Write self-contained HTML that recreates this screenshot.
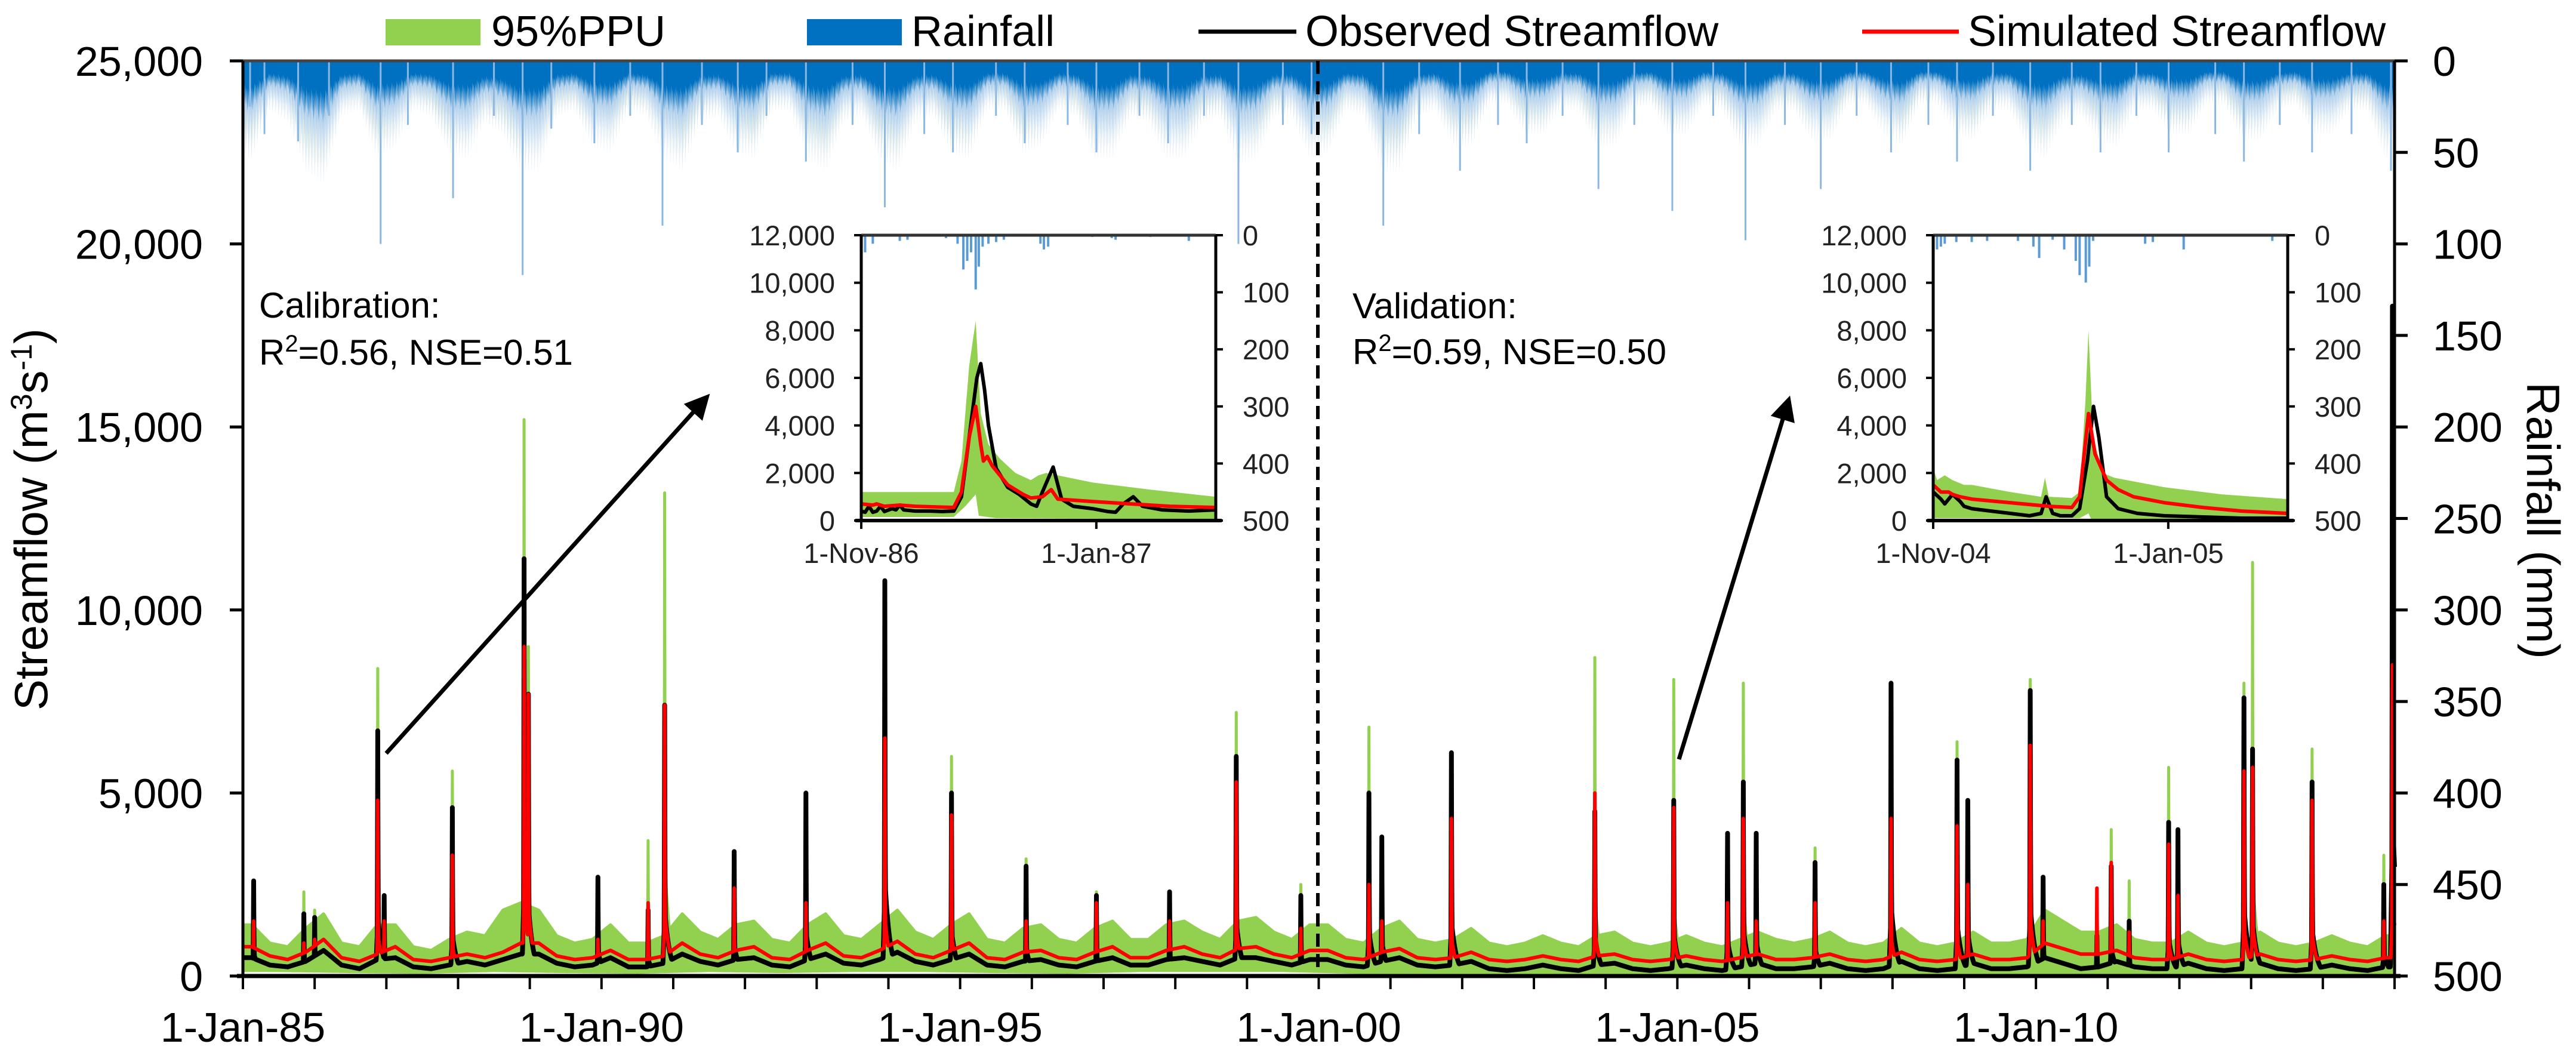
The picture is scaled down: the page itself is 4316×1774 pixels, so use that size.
<!DOCTYPE html>
<html><head><meta charset="utf-8"><style>
html,body{margin:0;padding:0;background:#fff;}
svg{display:block;font-family:"Liberation Sans",Arial,sans-serif;}
</style></head><body>
<svg id="chart" width="4316" height="1774" viewBox="0 0 4316 1774" xmlns="http://www.w3.org/2000/svg">
<rect width="4316" height="1774" fill="#fff"/>
<g id="main-rain"></g>
<g id="main-flow"></g>
<g id="main-axes"></g>
<line x1="2208" y1="102" x2="2208" y2="1635" stroke="#000" stroke-width="6" stroke-dasharray="22,12"/>
<g>
<rect x="646" y="32" width="159" height="44" fill="#92D050"/>
<text x="823" y="77" font-size="72">95%PPU</text>
<rect x="1352" y="32" width="159" height="44" fill="#0070C0"/>
<text x="1527" y="77" font-size="72">Rainfall</text>
<line x1="2008" y1="53" x2="2172" y2="53" stroke="#000" stroke-width="7"/>
<text x="2187" y="77" font-size="72">Observed Streamflow</text>
<line x1="3120" y1="53" x2="3282" y2="53" stroke="#FF0000" stroke-width="7"/>
<text x="3297" y="77" font-size="72">Simulated Streamflow</text>
</g>
<text transform="translate(79,870) rotate(-90)" text-anchor="middle" font-size="78">Streamflow (m<tspan font-size="50" dy="-26">3</tspan><tspan dy="26">s</tspan><tspan font-size="50" dy="-26">-1</tspan><tspan dy="26">)</tspan></text>
<text transform="translate(4234,872) rotate(90)" text-anchor="middle" font-size="78">Rainfall (mm)</text>
<g font-size="60">
<text x="434" y="532">Calibration:</text>
<text x="434" y="611">R<tspan font-size="40" dy="-22">2</tspan><tspan dy="22">=0.56, NSE=0.51</tspan></text>
</g>
<g font-size="60">
<text x="2266" y="533">Validation:</text>
<text x="2266" y="610">R<tspan font-size="40" dy="-22">2</tspan><tspan dy="22">=0.59, NSE=0.50</tspan></text>
</g>
<defs><marker id="ah" markerWidth="6" markerHeight="6" refX="4" refY="3" orient="auto" markerUnits="strokeWidth"><path d="M0,0 L6,3 L0,6 z" fill="#000"/></marker></defs>
<line x1="647" y1="1262" x2="1180" y2="670" stroke="#000" stroke-width="7" marker-end="url(#ah)"/>
<line x1="2813" y1="1272" x2="2995" y2="676" stroke="#000" stroke-width="7" marker-end="url(#ah)"/>
<g id="inset1"></g>
<g id="inset2"></g>
</svg>
<script>
// ---------------- MAIN CHART DATA ----------------
const xTickYears = [1985,1990,1995,2000,2005,2010];
const xTickLabels = ["1-Jan-85","1-Jan-90","1-Jan-95","1-Jan-00","1-Jan-05","1-Jan-10"];
const yTicks = [0,5000,10000,15000,20000,25000];
const yTickLabels = ["0","5,000","10,000","15,000","20,000","25,000"];
const rainTicks = [0,50,100,150,200,250,300,350,400,450,500];
// quarterly baseline flows (Q1..Q4 of each year 1985-2014)
const obsBase = [500,300,250,400, 700,300,200,450, 500,250,200,300, 400,300,450,600, 600,350,250,300, 500,250,250,350, 600,400,300,450, 500,300,250,450, 600,350,300,450, 650,400,300,450, 600,300,250,400, 450,300,250,400, 500,300,300,450, 500,400,300,500, 500,400,300,450, 450,300,250,400, 500,300,250,300, 400,200,150,200, 300,200,150,300, 350,200,150,200, 300,200,150,250, 350,200,200,250, 350,200,150,200, 400,200,150,200, 350,200,200,250, 500,350,200,250, 400,250,200,200, 350,200,150,200, 350,200,150,200, 300,200,150,250];
const simBase = [800,550,450,650, 1000,500,400,600, 800,450,400,500, 600,500,650,900, 900,550,450,500, 700,450,450,550, 900,600,500,700, 800,500,450,700, 900,550,500,700, 950,600,500,700, 900,500,450,650, 700,500,450,650, 800,500,500,700, 800,600,500,750, 800,600,500,700, 700,500,450,650, 750,500,450,500, 650,450,400,450, 550,450,400,550, 600,450,400,450, 550,450,400,500, 600,450,450,500, 600,450,400,450, 650,450,400,450, 600,450,450,500, 900,750,600,600, 700,500,450,450, 600,450,400,450, 600,450,400,450, 550,450,400,500];
const ppuHiBase = [1400,900,800,1300, 1700,900,800,1400, 1400,800,700,1000, 1200,1100,1800,2000, 1800,1100,900,1000, 1400,900,900,1100, 1700,1200,1000,1400, 1500,1000,900,1400, 1700,1100,1000,1400, 1800,1200,1000,1400, 1700,1000,900,1300, 1400,1000,900,1300, 1500,1000,1000,1400, 1500,1200,1000,1500, 1600,1200,1000,1400, 1400,1000,900,1300, 1500,1000,900,1000, 1300,900,800,900, 1100,900,800,1100, 1200,900,800,900, 1100,900,800,1000, 1200,1000,900,1000, 1200,900,800,900, 1300,900,800,900, 1200,900,900,1000, 1800,1500,1200,1200, 1400,1000,900,900, 1200,900,800,900, 1200,900,800,900, 1100,900,800,1100];
const ppuLoBase = [150,120,100,150,120,100,150,120,150,150,120,100,150,150,150,100,80,50,50,50,50,50,50,50,50,80,50,50,50,50];
// flood peaks
const peakT   = [1985.15,1985.85,1986.0,1986.88,1986.97,1987.92,1988.92,1988.98,1989.95,1990.65,1990.88,1991.85,1992.85,1993.95,1994.88,1995.92,1996.9,1997.92,1998.85,1999.75,2000.7,2000.88,2001.85,2003.85,2004.95,2005.7,2005.92,2006.1,2006.92,2007.98,2008.9,2009.05,2009.92,2010.1,2010.85,2011.05,2011.3,2011.85,2011.98,2012.9,2013.02,2013.85,2014.85,2014.97];
const peakObs = [2600,1700,1600,6700,2200,4600,11400,7700,2700,1800,7400,3400,5000,10800,5000,3000,2200,2300,6000,2200,5000,3800,6100,4500,4800,3900,5300,3900,3100,8000,5900,4800,7800,2700,1100,3000,1500,4200,4000,7600,6200,5300,2500,18300];
const peakSim = [1500,900,1000,4800,1500,3300,9000,7700,1000,2000,7400,2400,2000,6500,4400,1500,2000,1500,5300,1300,2500,1500,4300,5000,4600,2000,4300,1500,2000,4300,4100,2500,6300,1500,2400,3100,1200,3600,2200,5600,5700,4800,1500,8500];
const peakHi  = [1800,2300,1800,8400,2000,5600,15200,9000,1500,3700,13200,3400,3500,6800,6000,3200,2300,2000,7200,2500,6800,2500,4200,8700,8100,3000,8000,2500,3500,8000,6400,4000,8100,2500,1500,4000,2600,5700,3000,8000,11300,6200,3300,12300];
// rainfall
const rainBand = [16,8,10,18, 20,9,8,16, 14,8,9,15, 16,10,12,18, 18,9,8,14, 15,8,9,16, 18,10,9,15, 16,8,8,16, 18,10,9,16, 18,10,9,15, 16,8,8,15, 14,8,9,16, 16,9,10,16, 16,10,9,17, 16,9,9,16, 15,8,9,18, 18,9,8,14, 14,7,7,12, 12,8,8,14, 14,8,7,12, 12,7,8,14, 14,8,8,13, 13,7,7,12, 14,7,7,12, 13,8,8,14, 16,10,9,13, 14,8,8,12, 12,7,7,13, 13,8,7,12, 12,8,8,16];
const rainSpikeT  = [1985.1,1985.3,1985.77,1986.2,1986.92,1987.3,1987.93,1988.5,1988.9,1989.3,1989.9,1990.4,1990.85,1991.4,1991.9,1992.3,1992.85,1993.5,1993.95,1994.5,1994.9,1995.5,1995.9,1996.5,1996.9,1997.5,1997.9,1998.4,1998.88,1999.5,1999.9,2000.9,2001.4,2001.97,2002.5,2002.9,2003.4,2003.9,2004.4,2004.93,2005.5,2005.95,2006.5,2007.0,2007.5,2007.98,2008.5,2008.9,2009.4,2009.92,2010.5,2010.9,2011.4,2011.85,2012.5,2012.9,2013.4,2013.85,2014.4,2014.95];
const rainSpikeMm = [25,40,44,30,100,35,75,30,117,37,45,30,90,35,50,30,55,35,80,40,50,30,45,35,50,30,45,30,100,35,40,90,40,60,35,45,30,70,35,82,30,98,35,70,30,50,35,55,30,60,35,50,30,50,40,55,35,50,40,60];

// ---------------- INSET DATA (day from 1 Nov) ----------------
const in1Obs = [[0,400],[1,350],[2,600],[3,350],[4,400],[5,600],[6,380],[8,500],[9,450],[10,650],[11,450],[14,400],[18,400],[21,380],[24,400],[26,1000],[28,3500],[30,6000],[31,6600],[32,5500],[33,4000],[35,2200],[38,1400],[41,1100],[44,700],[45.5,600],[47,1200],[49.8,2250],[52,900],[55,600],[60,500],[64,380],[66,350],[68,700],[70.6,1000],[73,600],[78,450],[85,400],[92,450]];
const in1Sim = [[0,700],[3,650],[4,700],[6,600],[10,650],[14,600],[24,550],[26,1200],[28,3500],[29.7,4800],[31,3200],[31.7,2500],[32.7,2700],[34,2300],[38,1500],[42,1100],[44,950],[47,1000],[49.3,1300],[51,900],[60,800],[70,700],[80,600],[92,550]];
const in1Hi  = [[0,1200],[24,1200],[26,2500],[28,6500],[29.7,8400],[31,4500],[33,3200],[36,2600],[40,2000],[44,1700],[46,1900],[48,2000],[60,1600],[75,1300],[92,1000]];
const in1Lo  = [[0,150],[24,150],[27,600],[29.7,1100],[30.5,200],[35,100],[92,50]];
const in1Rain = [[1,30],[3,15],[10,10],[12,8],[22,5],[25,15],[26.5,60],[27.5,45],[28.5,30],[29.7,95],[30.5,55],[31.5,20],[33,15],[35,12],[37,8],[46.5,15],[47.4,25],[48.5,20],[60,3],[65,5],[66,8],[75,3],[85,10]];
const in2Obs = [[0,1200],[2,900],[3,700],[5,1100],[7,800],[8,600],[10,500],[15,400],[20,300],[25,200],[28,300],[29.3,1000],[31,300],[33,200],[36,200],[38,500],[40,2500],[41.6,4800],[43,3500],[45,1000],[48,500],[53,300],[60,200],[70,150],[80,100],[92,100]];
const in2Sim = [[0,1500],[2,1200],[4,1200],[5,1100],[7,1000],[10,900],[20,750],[30,600],[36,550],[38,1000],[40.3,4500],[42,2800],[45,1700],[48,1300],[52,1000],[60,750],[70,550],[80,400],[92,300]];
const in2Hi  = [[0,2200],[1,1700],[3,1900],[5,1700],[8,1500],[10,1500],[20,1200],[28,1000],[29,1800],[30,1000],[36,950],[38,1200],[39.5,5000],[40.3,8000],[41.5,3500],[44,2000],[47,1800],[60,1400],[75,1100],[92,900]];
const in2Lo  = [[0,100],[38,100],[40.3,300],[41,50],[92,30]];
const in2Rain = [[0,15],[1,25],[2,20],[3,15],[6,12],[10,12],[14,10],[22,10],[26,20],[27.5,40],[31,8],[34,25],[37,45],[38,70],[39.6,83],[40.5,55],[41.5,10],[55,15],[57,12],[65,25],[88,10]];
const insetYTicks = [0,2000,4000,6000,8000,10000,12000];
const insetYLabels = ["0","2,000","4,000","6,000","8,000","10,000","12,000"];
const insetRainTicks = [0,100,200,300,400,500];
const in1XTicks = [0,61]; const in1XLabels = ["1-Nov-86","1-Jan-87"];
const in2XTicks = [0,61]; const in2XLabels = ["1-Nov-04","1-Jan-05"];

// ---------------- HELPERS ----------------
const NS = "http://www.w3.org/2000/svg";
function mk(tag, attrs, parent){ const e=document.createElementNS(NS,tag); for(const k in attrs) e.setAttribute(k,attrs[k]); parent.appendChild(e); return e; }

const PL=407, PR=4012, PT=102, PB=1635;
const X = t => PL + (t-1985)/30*(PR-PL);
const Y = v => PB - v/25000*(PB-PT);
const R = mm => PT + mm/500*(PB-PT);

function baseAt(arr, t){
  const f = (t-1985)*4 - 0.5;
  if(f<=0) return arr[0];
  if(f>=arr.length-1) return arr[arr.length-1];
  const i=Math.floor(f), r=f-i; return arr[i]*(1-r)+arr[i+1]*r;
}
function yearlyAt(arr,t){
  const f=(t-1985)-0.5; if(f<=0) return arr[0]; if(f>=arr.length-1) return arr[arr.length-1];
  const i=Math.floor(f), r=f-i; return arr[i]*(1-r)+arr[i+1]*r;
}
function peakAt(peaks, t){
  let m=0;
  for(let i=0;i<peakT.length;i++){
    const dt=t-peakT[i], p=peaks[i];
    let v=0;
    if(dt>-0.03 && dt<0) v=Math.max(p*(1+dt/0.008), 0.22*p*(1+dt/0.03));
    else if(dt>=0 && dt<0.3) v=Math.max(p*Math.exp(-dt/0.006), 0.25*p*Math.exp(-dt/0.07));
    if(v>m) m=v;
  }
  return m;
}
const ts=[];
for(let t=1985;t<=2015.0001;t+=0.0025) ts.push(t);
for(let i=0;i<peakT.length;i++){ ts.push(peakT[i]); }
ts.sort((a,b)=>a-b);

function seriesVals(base, peaks, yearly){
  return ts.map(t=>{ const b = yearly? yearlyAt(base,t) : baseAt(base,t); return Math.max(b, peaks?peakAt(peaks,t):0); });
}
const obsV = seriesVals(obsBase, peakObs);
const simV = seriesVals(simBase, peakSim);
const hiV  = seriesVals(ppuHiBase, peakHi);
const loV  = seriesVals(ppuLoBase, null, true);

const flowG = document.getElementById('main-flow');
let d="M"+ts.map((t,i)=>X(t).toFixed(1)+","+Y(hiV[i]).toFixed(1)).join("L");
for(let i=ts.length-1;i>=0;i--) d+="L"+X(ts[i]).toFixed(1)+","+Y(loV[i]).toFixed(1);
const band = mk('path',{d:d+"Z",fill:"#92D050",stroke:"#92D050","stroke-width":5,"stroke-linejoin":"round"},flowG);


const obsP = mk('path',{d:"M"+ts.map((t,i)=>X(t).toFixed(1)+","+Y(obsV[i]).toFixed(1)).join("L"),fill:"none",stroke:"#000","stroke-width":8,"stroke-linejoin":"round"},flowG);


const simP = mk('path',{d:"M"+ts.map((t,i)=>X(t).toFixed(1)+","+Y(simV[i]).toFixed(1)).join("L"),fill:"none",stroke:"#FF0000","stroke-width":6,"stroke-linejoin":"round"},flowG);



// rainfall
const rainG = document.getElementById('main-rain');
const lightMul=[2.2,1.3,3.0,1.6,2.6,1.2,3.4];
const darkMul=[1.3,0.9,1.6,1.0,1.4,0.8,1.2,1.5,0.9,1.1,1.7];
let dl="M"+X(1985)+","+PT, ds="M"+X(1985)+","+PT;
let k=0;
for(let t=1985;t<=2015.0001;t+=0.006){
  const b=baseAt(rainBand,t);
  dl+="L"+X(t).toFixed(1)+","+R(b*lightMul[k%7]).toFixed(1);
  ds+="L"+X(t).toFixed(1)+","+R(b*darkMul[k%11]).toFixed(1);
  k++;
}
dl+="L"+X(2015)+","+PT+"Z"; ds+="L"+X(2015)+","+PT+"Z";
const rl = mk('path',{d:dl,fill:"#A9CBEA"},rainG);


const rs = mk('path',{d:ds,fill:"#0070C0"},rainG);


for(let i=0;i<rainSpikeT.length;i++){
  const l = mk('line',{x1:X(rainSpikeT[i]),x2:X(rainSpikeT[i]),y1:PT,y2:R(rainSpikeMm[i]),stroke:"#8AB8E2","stroke-width":3},rainG);
  
  
}

// axes
const ax = document.getElementById('main-axes');
mk('line',{x1:PL,y1:PT,x2:PR,y2:PT,stroke:"#444","stroke-width":5},ax);
mk('line',{x1:PL,y1:PT,x2:PL,y2:PB+3,stroke:"#000","stroke-width":5},ax);
mk('line',{x1:PR,y1:PT,x2:PR,y2:PB+3,stroke:"#000","stroke-width":5},ax);
mk('line',{x1:PL-10,y1:PB,x2:PR+10,y2:PB,stroke:"#000","stroke-width":7},ax);
for(let y=1985;y<=2015;y++){ mk('line',{x1:X(y),x2:X(y),y1:PB,y2:PB+22,stroke:"#000","stroke-width":4},ax); }
for(let i=0;i<xTickYears.length;i++){
  const t = mk('text',{x:X(xTickYears[i]),y:1745,"font-size":70,"text-anchor":"middle"},ax);
  t.textContent = xTickLabels[i];
  
  
}
for(let i=0;i<yTicks.length;i++){
  mk('line',{x1:PL-22,x2:PL,y1:Y(yTicks[i]),y2:Y(yTicks[i]),stroke:"#000","stroke-width":5},ax);
  const t = mk('text',{x:340,y:Y(yTicks[i])+25,"font-size":70,"text-anchor":"end"},ax);
  t.textContent = yTickLabels[i];
  
  
}
for(let i=0;i<rainTicks.length;i++){
  mk('line',{x1:PR,x2:PR+22,y1:R(rainTicks[i]),y2:R(rainTicks[i]),stroke:"#000","stroke-width":5},ax);
  const t = mk('text',{x:4076,y:R(rainTicks[i])+25,"font-size":70},ax);
  t.textContent = String(rainTicks[i]);
  
  
}

// insets
function drawInset(gid, L, obs, sim, hi, lo, rain, xt, xl){
  const g=document.getElementById(gid);
  const Rr=L+594, T=394, B=872, D=92;
  const IX = d => L + d/D*(Rr-L);
  const IY = v => B - v/12000*(B-T);
  const IR = mm => T + mm/500*(B-T);
  mk('rect',{x:L,y:T,width:Rr-L,height:B-T,fill:"#fff"},g);
  const interp=(arr,d)=>{ if(d<=arr[0][0]) return arr[0][1]; for(let i=1;i<arr.length;i++){ if(d<=arr[i][0]){ const a=arr[i-1],b=arr[i]; return a[1]+(b[1]-a[1])*(d-a[0])/(b[0]-a[0]); } } return arr[arr.length-1][1]; };
  const ds=[]; for(let d=0; d<=D; d+=0.25) ds.push(d);
  hi.forEach(p=>ds.push(p[0])); lo.forEach(p=>ds.push(p[0])); ds.sort((a,b)=>a-b);
  let p="M"+ds.map(d=>IX(d).toFixed(1)+","+IY(interp(hi,d)).toFixed(1)).join("L");
  for(let i=ds.length-1;i>=0;i--) p+="L"+IX(ds[i]).toFixed(1)+","+IY(interp(lo,ds[i])).toFixed(1);
  const band=mk('path',{d:p+"Z",fill:"#92D050"},g);
  
  
  const ob=mk('path',{d:"M"+obs.map(q=>IX(q[0]).toFixed(1)+","+IY(q[1]).toFixed(1)).join("L"),fill:"none",stroke:"#000","stroke-width":6,"stroke-linejoin":"round"},g);
  
  
  const sm=mk('path',{d:"M"+sim.map(q=>IX(q[0]).toFixed(1)+","+IY(q[1]).toFixed(1)).join("L"),fill:"none",stroke:"#FF0000","stroke-width":6,"stroke-linejoin":"round"},g);
  
  
  rain.forEach(q=>{
    const b=mk('line',{x1:IX(q[0]),x2:IX(q[0]),y1:T,y2:IR(q[1]),stroke:"#5B9BD5","stroke-width":4},g);
    
    
  });
  mk('line',{x1:L,y1:T,x2:Rr,y2:T,stroke:"#333","stroke-width":5},g);
  mk('line',{x1:L,y1:T,x2:L,y2:B,stroke:"#000","stroke-width":5},g);
  mk('line',{x1:Rr,y1:T,x2:Rr,y2:B,stroke:"#000","stroke-width":5},g);
  mk('line',{x1:L-10,y1:B,x2:Rr+10,y2:B,stroke:"#000","stroke-width":6},g);
  insetYTicks.forEach((v,i)=>{
    mk('line',{x1:L-12,x2:L,y1:IY(v),y2:IY(v),stroke:"#000","stroke-width":4},g);
    const t=mk('text',{x:L-44,y:IY(v)+17,"font-size":47,"text-anchor":"end",fill:"#222"},g);
    t.textContent=insetYLabels[i];
    
    
  });
  insetRainTicks.forEach(v=>{
    mk('line',{x1:Rr,x2:Rr+12,y1:IR(v),y2:IR(v),stroke:"#000","stroke-width":4},g);
    const t=mk('text',{x:Rr+45,y:IR(v)+17,"font-size":47,fill:"#222"},g);
    t.textContent=String(v);
    
    
  });
  xt.forEach((d,i)=>{
    mk('line',{x1:IX(d),x2:IX(d),y1:B,y2:B+14,stroke:"#000","stroke-width":4},g);
    const t=mk('text',{x:IX(d),y:943,"font-size":47,"text-anchor":"middle",fill:"#222"},g);
    t.textContent=xl[i];
    
    
  });
}
drawInset('inset1',1443,in1Obs,in1Sim,in1Hi,in1Lo,in1Rain,in1XTicks,in1XLabels);
drawInset('inset2',3239,in2Obs,in2Sim,in2Hi,in2Lo,in2Rain,in2XTicks,in2XLabels);
</script>
</body></html>
